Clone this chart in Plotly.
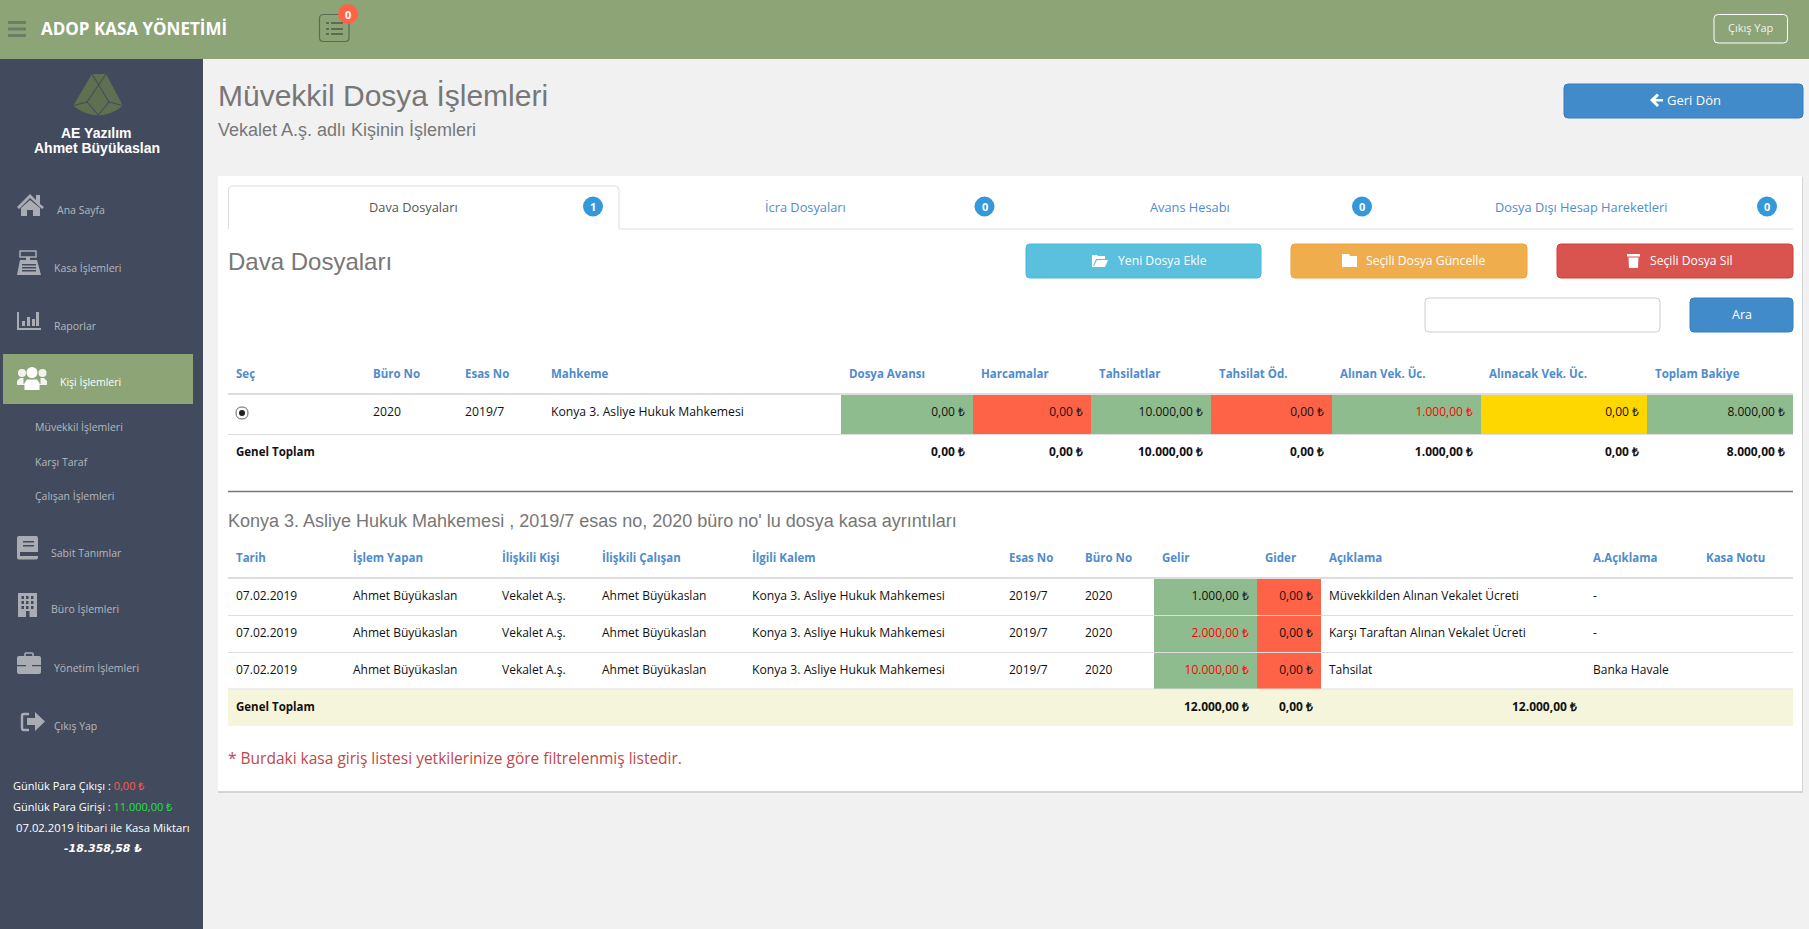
import plotly.graph_objects as go

# page texts
page_title = "Müvekkil Dosya İşlemleri"
page_subtitle = "Vekalet A.ş. adlı Kişinin İşlemleri"
tab_names = ["Dava Dosyaları", "İcra Dosyaları", "Avans Hesabı", "Dosya Dışı Hesap Hareketleri"]
tab_counts = ["1", "0", "0", "0"]
menu_items = ["Ana Sayfa", "Kasa İşlemleri", "Raporlar", "Kişi İşlemleri", "Müvekkil İşlemleri",
              "Karşı Taraf", "Çalışan İşlemleri", "Sabit Tanımlar", "Büro İşlemleri",
              "Yönetim İşlemleri", "Çıkış Yap"]

# dosya table
file_headers = ["Seç", "Büro No", "Esas No", "Mahkeme", "Dosya Avansı", "Harcamalar", "Tahsilatlar",
                "Tahsilat Öd.", "Alınan Vek. Üc.", "Alınacak Vek. Üc.", "Toplam Bakiye"]
file_row = ["", "2020", "2019/7", "Konya 3. Asliye Hukuk Mahkemesi"]
file_amounts = ["0,00 ₺", "0,00 ₺", "10.000,00 ₺", "0,00 ₺", "1.000,00 ₺", "0,00 ₺", "8.000,00 ₺"]
file_totals = ["0,00 ₺", "0,00 ₺", "10.000,00 ₺", "0,00 ₺", "1.000,00 ₺", "0,00 ₺", "8.000,00 ₺"]

# kasa table
cash_headers = ["Tarih", "İşlem Yapan", "İlişkili Kişi", "İlişkili Çalışan", "İlgili Kalem", "Esas No",
                "Büro No", "Gelir", "Gider", "Açıklama", "A.Açıklama", "Kasa Notu"]
cash_dates = ["07.02.2019", "07.02.2019", "07.02.2019"]
cash_users = ["Ahmet Büyükaslan", "Ahmet Büyükaslan", "Ahmet Büyükaslan"]
cash_persons = ["Vekalet A.ş.", "Vekalet A.ş.", "Vekalet A.ş."]
cash_staff = ["Ahmet Büyükaslan", "Ahmet Büyükaslan", "Ahmet Büyükaslan"]
cash_items = ["Konya 3. Asliye Hukuk Mahkemesi"] * 3
cash_case = ["2019/7", "2019/7", "2019/7"]
cash_office = ["2020", "2020", "2020"]
cash_income = ["1.000,00 ₺", "2.000,00 ₺", "10.000,00 ₺"]
cash_expense = ["0,00 ₺", "0,00 ₺", "0,00 ₺"]
cash_notes = ["Müvekkilden Alınan Vekalet Ücreti", "Karşı Taraftan Alınan Vekalet Ücreti", "Tahsilat"]
cash_extra = ["-", "-", "Banka Havale"]
cash_totals = ["12.000,00 ₺", "0,00 ₺", "12.000,00 ₺"]

# colours
HEADER = "#8ca476"
SIDE = "#424b5d"
PAGE = "#f1f1f1"
LINK = "#4f8ccb"
GREEN = "#8fbc8f"
TOMATO = "#ff6347"
GOLD = "#ffd700"
GRAY = "#777777"
MENU = "#b4b7bd"
ICON = "#a9acb3"
BODY = "Open Sans"
HEAD = "Liberation Sans"

# table geometry
file_cols = [228, 365, 457, 543, 841, 973, 1091, 1211, 1332, 1481, 1647, 1793]
file_fills = [GREEN, TOMATO, GREEN, TOMATO, GREEN, GOLD, GREEN]
file_amount_colors = ["#111", "#111", "#111", "#111", "#ff0000", "#111", "#111"]
cash_cols = [228, 345, 494, 594, 744, 1001, 1077, 1154, 1257, 1321, 1585, 1698, 1793]
cash_rows = [579, 615.5, 652.5, 689]
cash_income_colors = ["#111", "#ff0000", "#ff0000"]

shapes = []
notes = []


def box(x0, y0, x1, y1, fill=None, line=None, r=0, w=1):
    path = (f"M{x0+r},{y0} L{x1-r},{y0} Q{x1},{y0} {x1},{y0+r} L{x1},{y1-r} Q{x1},{y1} {x1-r},{y1} "
            f"L{x0+r},{y1} Q{x0},{y1} {x0},{y1-r} L{x0},{y0+r} Q{x0},{y0} {x0+r},{y0} Z")
    shapes.append(dict(type="path", path=path, fillcolor=fill or "rgba(0,0,0,0)", layer="below",
                       line=dict(color=line or "rgba(0,0,0,0)", width=w if line else 0)))


def poly(points, fill, line=None, w=1):
    path = "M" + " L".join(f"{x},{y}" for x, y in points) + " Z"
    shapes.append(dict(type="path", path=path, fillcolor=fill, layer="below",
                       line=dict(color=line or "rgba(0,0,0,0)", width=w if line else 0)))


def disc(cx, cy, r, fill, line=None, w=1, rx=None):
    shapes.append(dict(type="circle", x0=cx-(rx or r), x1=cx+(rx or r), y0=cy-r, y1=cy+r, fillcolor=fill,
                       layer="below", line=dict(color=line or "rgba(0,0,0,0)", width=w if line else 0)))


def rule(x0, x1, y, color="#dddddd", w=1):
    shapes.append(dict(type="line", x0=x0, x1=x1, y0=y, y1=y, layer="above", line=dict(color=color, width=w)))


def label(x, y, text, size=11, color="#333", anchor="left", font=BODY):
    notes.append(dict(x=x, y=y, text=text, showarrow=False, xanchor=anchor, yanchor="middle",
                      font=dict(family=font, size=size, color=color), borderpad=0, borderwidth=0))


# page frame
box(0, 0, 1809, 929, PAGE)
box(0, 59, 203, 929, SIDE)
box(0, 0, 1809, 59, HEADER)
box(218, 177, 1803, 793, "#d4d4d4")
box(218, 176, 1802, 791, "#ffffff")

# top bar
for y in (21, 27.5, 34):
    box(8, y, 26, y+3, "#6f7d68")
label(41, 28, "<b>ADOP KASA YÖNETİMİ</b>", 17, "#ffffff")
box(319.5, 14.5, 349, 41.5, None, "#5d6b55", 4, 1.2)
for y in (22, 28, 33):
    box(331, y, 343, y+2, "#5d6b55")
    box(326, y, 329, y+2, "#5d6b55")
disc(348, 14, 10, TOMATO)
label(348, 14, "<b>0</b>", 11, "#ffffff", "center")
box(1714, 14.5, 1787.5, 43, None, "#ffffff", 4, 1)
label(1751, 27.5, "Çıkış Yap", 11, "#f2f2f2", "center")

# title block
label(218, 95, page_title, 30, GRAY, font=HEAD)
label(218, 130, page_subtitle, 18, GRAY, font=HEAD)
box(1564, 84, 1803, 118, "#428bca", "#357ebd", 4)
poly([(1650, 100), (1657, 93.5), (1659, 95.5), (1655.5, 99), (1663, 99), (1663, 101.5), (1655.5, 101.5),
      (1659, 105), (1657, 107)], "#ffffff")
label(1667, 100, "Geri Dön", 13, "#ffffff")

# sidebar logo and user
shapes.append(dict(type="path", path="M92,74 L106,74 L123,105.7 Q98,125 73,105.7 Z", fillcolor="#5f7050",
                   layer="below", line=dict(color="rgba(0,0,0,0)", width=0)))
logo_lines = [((92, 74), (109, 102)), ((106, 74), (87, 102)), ((87, 102), (98.3, 115)), ((109, 102), (98.3, 115)),
              ((87, 102), (73, 105.7)), ((109, 102), (123, 105.7))]
for a, b in logo_lines:
    shapes.append(dict(type="line", x0=a[0], y0=a[1], x1=b[0], y1=b[1], layer="below",
                       line=dict(color=SIDE, width=1.1)))
label(96, 133, "<b>AE Yazılım</b>", 14, "#ffffff", "center", HEAD)
label(97, 148, "<b>Ahmet Büyükaslan</b>", 14, "#ffffff", "center", HEAD)

# sidebar menu
box(3, 354, 193, 404, HEADER)
menu_x = [57, 54, 54, 60, 35, 35, 35, 51, 51, 54, 54]
menu_y = [210, 268, 325.5, 382, 427, 461.5, 496, 552.5, 609, 668, 725.5]
for name, x, y in zip(menu_items, menu_x, menu_y):
    label(x, y, name, 10.5, "#ffffff" if name == "Kişi İşlemleri" else MENU)

# home
poly([(17, 207), (30, 194), (36, 200), (36, 195), (40, 195), (40, 204), (44, 207), (42, 209), (30, 198),
      (19, 209)], ICON)
poly([(21, 208), (30, 200), (40, 208), (40, 216), (33, 216), (33, 210), (27, 210), (27, 216), (21, 216)], ICON)
# cash register
box(20, 251, 36, 257, None, ICON, 0, 1.5)
box(26, 257, 30, 261, ICON)
poly([(20, 260), (37, 260), (41, 275), (17, 275)], ICON)
for y in (264, 267, 270):
    box(22, y, 36, y+1.4, SIDE)
# chart
box(17, 312, 19, 330, ICON)
box(17, 328, 41, 330, ICON)
for x, top in zip((22, 27, 32, 36), (321, 317, 319, 312)):
    box(x, top, x+3, 326, ICON)
# users
disc(22, 373, 4, "#f2f2f2")
disc(42.5, 373, 4, "#f2f2f2")
disc(32, 372.5, 5.5, "#ffffff")
poly([(17, 385), (17, 381), (20, 378), (26, 378), (38, 378), (44, 378), (47, 381), (47, 385)], "#f2f2f2")
box(23.5, 378, 40.5, 384, HEADER)
poly([(24.5, 390), (24.5, 383), (27, 379.5), (37, 379.5), (39.5, 383), (39.5, 390)], "#ffffff")
# book
box(17, 536, 38, 559.5, ICON, None, 2)
box(23, 541, 34, 542.5, SIDE)
box(23, 545, 34, 546.5, SIDE)
box(20, 552, 38, 556, SIDE)
# building
box(18, 593, 37, 617, ICON)
for x in (21.5, 26, 31):
    for y in (596, 601, 606):
        box(x, y, x+2.5, y+3, SIDE)
box(26, 611, 29.5, 617, SIDE)
# briefcase
box(25, 653, 33, 658, None, ICON, 1, 1.6)
box(17, 656, 41, 674, ICON, None, 2)
box(17, 665, 41, 666.2, SIDE)
box(26, 664, 32, 667.5, ICON)
# sign out
box(22, 714, 33, 730, None, ICON, 2, 2.4)
box(29, 712, 36, 732, SIDE)
poly([(27, 718), (35, 718), (35, 712), (45, 721.5), (35, 731), (35, 725), (27, 725)], ICON)

# sidebar totals
label(13, 785.5, "Günlük Para Çıkışı : <span style='color:#ff5a4d'>0,00 ₺</span>", 11, "#ffffff")
label(13, 806.5, "Günlük Para Girişi : <span style='color:#22e03a'>11.000,00 ₺</span>", 11, "#ffffff")
label(103, 827, "07.02.2019 İtibari ile Kasa Miktarı", 11.3, "#ffffff", "center")
label(103, 848, "<b><i>-18.358,58 ₺</i></b>", 11, "#ffffff", "center", "DejaVu Sans")

# tabs
shapes.append(dict(type="path", path="M228.5,229 L228.5,190 Q228.5,186 232.5,186 L615,186 Q619,186 619,190 L619,229",
                   layer="below", fillcolor="rgba(0,0,0,0)", line=dict(color="#dddddd", width=1)))
rule(619, 1793, 229)
tab_x = [413, 805, 1190, 1581]
badge_x = [593, 984.5, 1362, 1767]
for i, name in enumerate(tab_names):
    label(tab_x[i], 206.5, name, 12.8, "#555555" if i == 0 else LINK, "center")
    disc(badge_x[i], 206.5, 10, "#3498db")
    label(badge_x[i], 206.5, f"<b>{tab_counts[i]}</b>", 11, "#ffffff", "center")

# section head and buttons
label(228, 261, tab_names[0], 24, GRAY, font=HEAD)
box(1026, 244, 1261, 278, "#5bc0de", "#46b8da", 4)
box(1291, 244, 1527, 278, "#f0ad4e", "#eea236", 4)
box(1557, 244, 1793, 278, "#d9534f", "#d43f3a", 4)
label(1118, 260, "Yeni Dosya Ekle", 12.2, "#ffffff")
label(1366, 260, "Seçili Dosya Güncelle", 12.2, "#ffffff")
label(1650, 260, "Seçili Dosya Sil", 12.2, "#ffffff")
poly([(1092, 255), (1092, 267), (1105, 267), (1108, 260), (1097, 260), (1094, 266), (1093, 266), (1096, 259),
      (1105, 259), (1105, 256), (1098, 256), (1097, 255)], "#ffffff")
poly([(1342, 254), (1349, 254), (1350, 256), (1357, 256), (1357, 267), (1342, 267)], "#ffffff")
box(1627, 254, 1640, 256.5, "#ffffff")
poly([(1628.5, 257.5), (1638.5, 257.5), (1638, 268), (1629, 268)], "#ffffff")
box(1425, 298, 1660, 332, "#ffffff", "#cccccc", 4)
box(1690, 298, 1793, 332, "#428bca", "#357ebd", 4)
label(1741.5, 314, "Ara", 12.5, "#ffffff", "center")

fig = go.Figure()


def add_fills(cols, top, bottom, colors, first):
    edges = cols[first:first+len(colors)+1]
    fig.add_trace(go.Bar(
        x=[(a+b)/2 for a, b in zip(edges, edges[1:])],
        width=[b-a for a, b in zip(edges, edges[1:])],
        y=[bottom-top]*len(colors), base=[top]*len(colors),
        marker=dict(color=colors, line=dict(width=0)), hoverinfo="skip", showlegend=False))


def add_text(xs, ys, texts, colors, side="right", size=12, bold=False):
    fig.add_trace(go.Scatter(
        x=xs, y=ys, text=[f"<b>{t}</b>" if bold else t for t in texts], mode="text",
        textposition=f"middle {side}", textfont=dict(family=BODY, size=size, color=colors),
        hoverinfo="skip", showlegend=False))


# dosya table
add_fills(file_cols, 395, 434, file_fills, 4)
add_text([c+8 for c in file_cols[:-1]], [375.5]*11, file_headers, LINK, size=11.5, bold=True)
rule(228, 1793, 394, "#dddddd", 2)
rule(228, 1793, 434.5)
box(236, 407, 248, 419, "#ffffff", "#666666", 6, 1)
disc(242, 413, 3, "#222222")
add_text([c+8 for c in file_cols[:4]], [412.5]*4, file_row, "#111111", size=12.2)
add_text([c-8 for c in file_cols[5:]], [412.5]*7, file_amounts, file_amount_colors, "left")
add_text([236], [453.5], ["Genel Toplam"], "#111111", size=11.5, bold=True)
add_text([c-8 for c in file_cols[5:]], [452.5]*7, file_totals, "#111111", "left", bold=True)

# kasa ayrintilari
rule(228, 1793, 491.5, "#777777", 1.5)
label(228, 521, "Konya 3. Asliye Hukuk Mahkemesi , 2019/7 esas no, 2020 büro no' lu dosya kasa ayrıntıları",
      18, GRAY, font=HEAD)
add_text([c+8 for c in cash_cols[:-1]], [559.5]*12, cash_headers, LINK, size=11.5, bold=True)
rule(228, 1793, 578, "#dddddd", 2)
for i in range(3):
    add_fills(cash_cols, cash_rows[i], cash_rows[i+1], [GREEN, TOMATO], 7)
    rule(228, 1793, cash_rows[i+1])
box(228, 689.5, 1793, 726, "#f5f5dc")
text_y = [(a+b)/2 for a, b in zip(cash_rows, cash_rows[1:])]
left_cols = [cash_dates, cash_users, cash_persons, cash_staff, cash_items, cash_case, cash_office]
for col, values in enumerate(left_cols):
    add_text([cash_cols[col]+8]*3, text_y, values, "#111111", size=12.2 if col == 4 else 12)
add_text([cash_cols[9]+8]*3, text_y, cash_notes, "#111111")
add_text([cash_cols[10]+8]*3, text_y, cash_extra, "#111111")
add_text([cash_cols[8]-8]*3, text_y, cash_income, cash_income_colors, "left")
add_text([cash_cols[9]-8]*3, text_y, cash_expense, "#111111", "left")
add_text([236], [708.5], ["Genel Toplam"], "#111111", size=11.5, bold=True)
add_text([cash_cols[8]-8, cash_cols[9]-8, cash_cols[10]-8], [707.5]*3, cash_totals, "#111111", "left", bold=True)
label(228, 757.5, "* Burdaki kasa giriş listesi yetkilerinize göre filtrelenmiş listedir.", 15.5, "#c0474a")

fig.update_layout(
    width=1809, height=929, margin=dict(l=0, r=0, t=0, b=0), barmode="overlay",
    paper_bgcolor=PAGE, plot_bgcolor="rgba(0,0,0,0)", shapes=shapes, annotations=notes,
    xaxis=dict(range=[0, 1809], visible=False, fixedrange=True),
    yaxis=dict(range=[929, 0], visible=False, fixedrange=True),
    font=dict(family=BODY), showlegend=False,
)
fig.write_html("out.html", config={"displayModeBar": False},
               post_script="document.body.style.margin = '0';")
